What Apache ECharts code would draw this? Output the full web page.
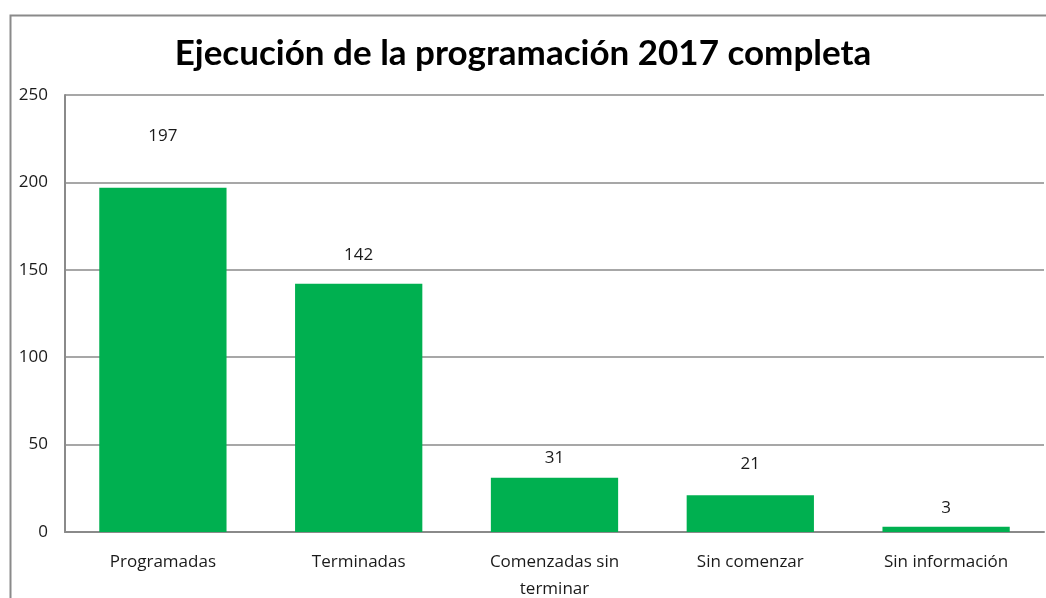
<!DOCTYPE html>
<html>
<head>
<meta charset="utf-8">
<script src="https://cdn.jsdelivr.net/npm/echarts@6/dist/echarts.min.js"></script>
<style>
  html, body { margin: 0; padding: 0; background: #fff; }
  #chart { width: 1046px; height: 598px; }
</style>
</head>
<body>
<div id="chart"></div>
<script>
const categories = ['Programadas', 'Terminadas', 'Comenzadas sin\nterminar', 'Sin comenzar', 'Sin información'];
const values = [197, 142, 31, 21, 3];
// distancia de cada etiqueta sobre su barra (en el original están colocadas a mano)
const labelGaps = [43, 20, 11, 23, 10];

const chart = echarts.init(document.getElementById('chart'));
const font = '"Open Sans", sans-serif';

chart.setOption({
  animation: false,
  title: {
    text: 'Ejecución de la programación 2017 completa',
    left: 'center',
    top: 31,
    textStyle: { fontFamily: 'Lato, sans-serif', fontWeight: 'bold', fontSize: 35, color: '#000' }
  },
  graphic: [{
    type: 'rect',
    left: 8, top: 13,
    shape: { width: 1100, height: 700 },
    style: { fill: 'none', stroke: '#8a8a8a', lineWidth: 2 }
  }],
  grid: { left: 65, right: 2, top: 95, bottom: 66, containLabel: false, outerBoundsMode: 'none' },
  xAxis: {
    type: 'category',
    data: categories,
    axisLine: { show: true, lineStyle: { color: '#8a8a8a', width: 2 } },
    axisTick: { show: false },
    axisLabel: { fontFamily: font, fontSize: 17, color: '#1a1a1a', margin: 17, lineHeight: 27 }
  },
  yAxis: {
    type: 'value',
    min: 0, max: 250, interval: 50,
    axisLine: { show: true, lineStyle: { color: '#8a8a8a', width: 2 } },
    axisTick: { show: false },
    axisLabel: { fontFamily: font, fontSize: 17, color: '#1a1a1a', margin: 17 },
    splitLine: { lineStyle: { color: '#8a8a8a', width: 1.5 } }
  },
  series: [{
    type: 'bar',
    barCategoryGap: '35%',
    itemStyle: { color: '#00b050' },
    data: values.map((v, i) => ({
      value: v,
      label: { show: true, position: 'top', distance: labelGaps[i], fontFamily: font, fontSize: 17, color: '#1a1a1a' }
    }))
  }]
});
</script>
</body>
</html>
